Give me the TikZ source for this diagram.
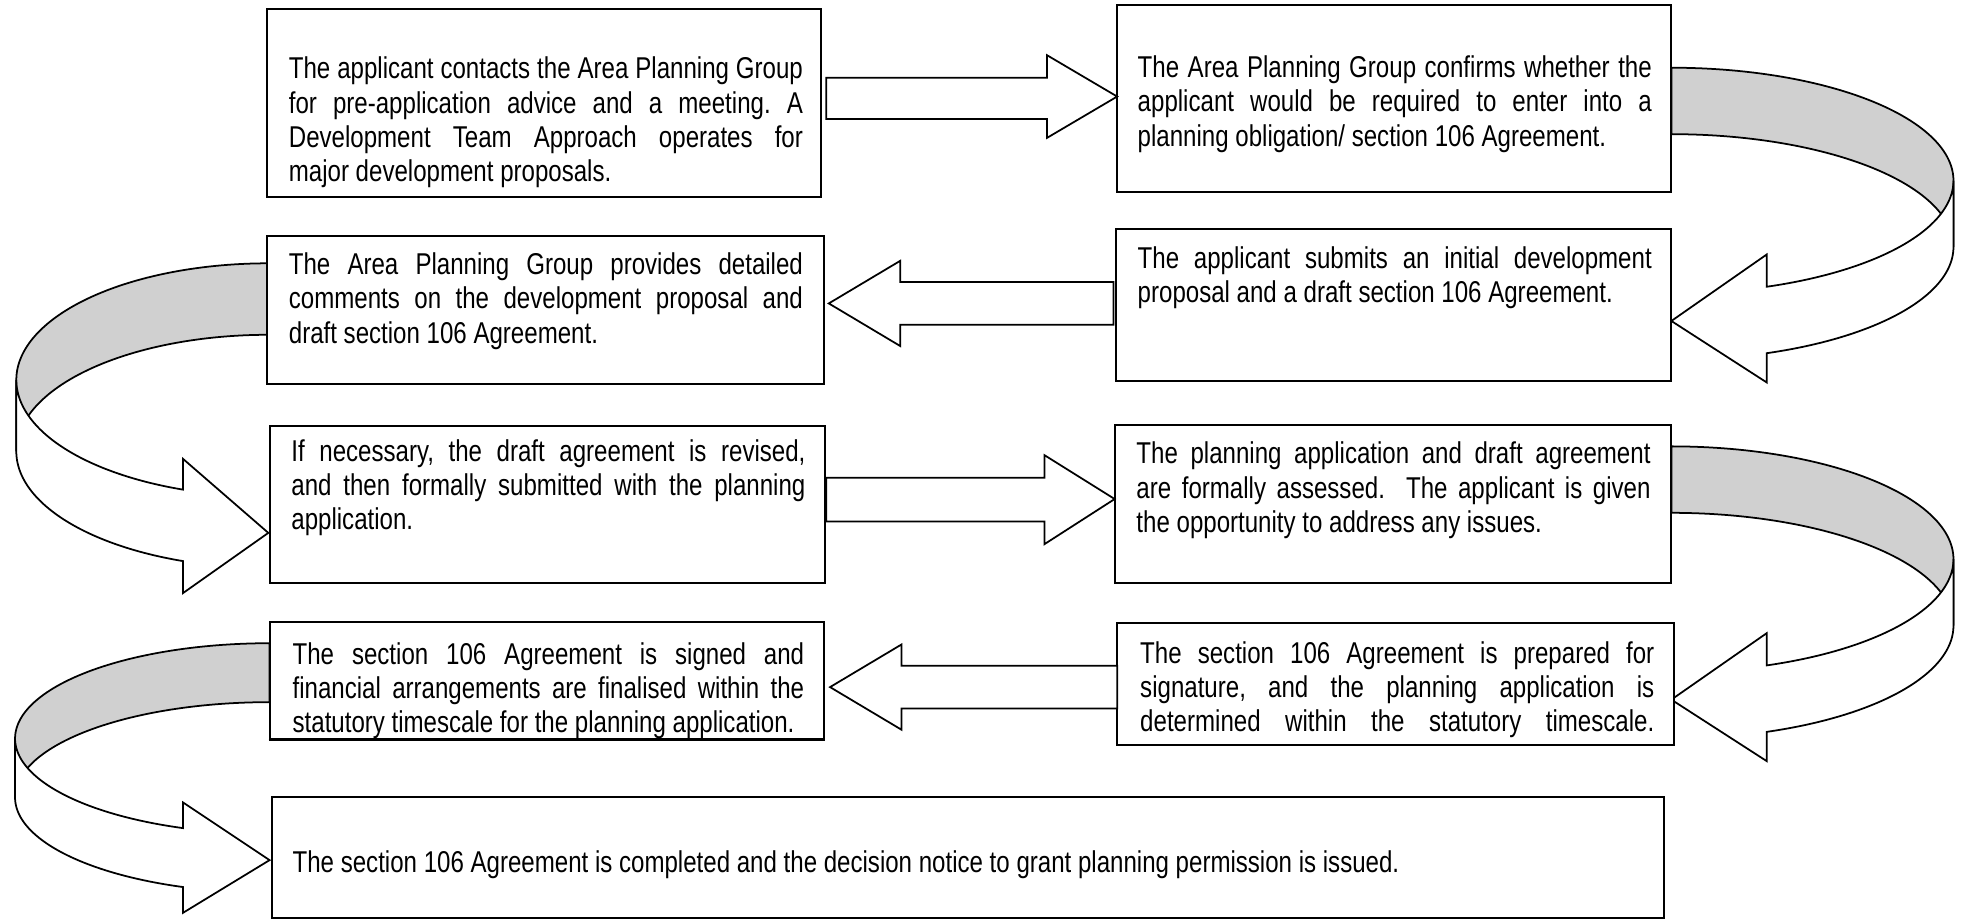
\documentclass[tikz,border=0pt]{standalone}
\usepackage{fontspec}
\setmainfont{Liberation Sans}[FakeStretch=0.80]
\usetikzlibrary{calc,fit}
\definecolor{ribgrey}{RGB}{208,208,208}
\tikzset{
  box/.style={draw=black, fill=white, line width=0.8pt, rectangle, inner sep=0pt},
  txt/.style={inner sep=0pt, anchor=base west, font=\fontsize{12pt}{13.65pt}\selectfont},
  blockarrow/.style={draw=black, fill=white, line width=0.7pt, line join=miter},
  ribbonback/.style={draw=black, fill=ribgrey, line width=0.7pt},
  ribbonfront/.style={draw=black, fill=white, line width=0.7pt, line join=miter},
}
% #1 cx, #2 cy, #3 rx, #4 ry, #5 thickness, #6 head base x, #7 head top, #8 head bottom, #9 tip y
\newcommand{\ribbonR}[9]{%
  \pgfmathsetmacro{\thh}{acos((#6-#1)/#3)}%
  \filldraw[ribbonback] plot[domain=-90:0,samples=60] ({#1+#3*cos(\x)},{#2+#4*sin(\x)})
    -- plot[domain=0:-90,samples=60] ({#1+#3*cos(\x)},{#2+#5+#4*sin(\x)}) -- cycle;
  \filldraw[ribbonfront] plot[domain=0:\thh,samples=60] ({#1+#3*cos(\x)},{#2+#4*sin(\x)})
    -- (#6,#7) -- (#1,#9) -- (#6,#8)
    -- plot[domain=\thh:0,samples=60] ({#1+#3*cos(\x)},{#2+#5+#4*sin(\x)}) -- cycle;
}
\newcommand{\ribbonL}[9]{%
  \pgfmathsetmacro{\thh}{acos((#6-#1)/#3)}%
  \filldraw[ribbonback] plot[domain=270:180,samples=60] ({#1+#3*cos(\x)},{#2+#4*sin(\x)})
    -- plot[domain=180:270,samples=60] ({#1+#3*cos(\x)},{#2+#5+#4*sin(\x)}) -- cycle;
  \filldraw[ribbonfront] plot[domain=180:\thh,samples=60] ({#1+#3*cos(\x)},{#2+#4*sin(\x)})
    -- (#6,#7) -- (#1,#9) -- (#6,#8)
    -- plot[domain=\thh:180,samples=60] ({#1+#3*cos(\x)},{#2+#5+#4*sin(\x)}) -- cycle;
}
\begin{document}
\frenchspacing
\tolerance=10000 \hbadness=10000
\begin{tikzpicture}[x=0.5pt, y=-0.5pt]
\useasboundingbox (0,0) rectangle (1568,733);

% curved ribbon arrows
\ribbonR{1333}{144}{225}{90}{53}{1409}{203}{305}{256}
\ribbonL{214}{303}{201}{93}{57}{146}{366}{473}{425}
\ribbonR{1333}{446}{225}{90}{53}{1409}{505}{607}{558}
\ribbonL{215}{589}{203}{76}{47}{146}{640}{728}{686}

% boxes
\node[box, fit={(213,7) (655,157)}] (b1) {};
\node[box, fit={(891,4) (1333,153)}] (b2) {};
\node[box, fit={(213,188) (657,306)}] (b3) {};
\node[box, fit={(890,183) (1333,304)}] (b4) {};
\node[box, fit={(215,340) (658,465)}] (b5) {};
\node[box, fit={(889,339) (1333,465)}] (b6) {};
\node[box, fit={(215,496) (657,589)}] (b7) {};
\node[box, fit={(891,497) (1335,594)}] (b8) {};
\node[box, fit={(217,636) (1327,732)}] (b9) {};

% straight block arrows
\filldraw[blockarrow] (659,62) -- (835,62) -- (835,44) -- (891,77) -- (835,110) -- (835,95) -- (659,95) -- cycle;
\filldraw[blockarrow] (661,242) -- (718,208) -- (718,225) -- (888,225) -- (888,259) -- (718,259) -- (718,276) -- cycle;
\filldraw[blockarrow] (659,381) -- (833,381) -- (833,363) -- (889,398) -- (833,434) -- (833,416) -- (659,416) -- cycle;
\filldraw[blockarrow] (662,548) -- (719,514) -- (719,531) -- (891,531) -- (891,565) -- (719,565) -- (719,582) -- cycle;

% texts
\node[txt] (t1) at (230,63) {\parbox[t]{205pt}{The applicant contacts the Area Planning Group\linebreak for pre-application advice and a meeting. A\linebreak Development Team Approach operates for\linebreak major development proposals.}};
\node[txt] (t2) at (907,62) {\parbox[t]{205pt}{The Area Planning Group confirms whether the\linebreak applicant would be required to enter into a\linebreak planning obligation/ section 106 Agreement.}};
\node[txt] (t3) at (230,219) {\parbox[t]{205pt}{The Area Planning Group provides detailed\linebreak comments on the development proposal and\linebreak draft section 106 Agreement.}};
\node[txt] (t4) at (907,214) {\parbox[t]{205pt}{The applicant submits an initial development\linebreak proposal and a draft section 106 Agreement.}};
\node[txt] (t5) at (232,368) {\parbox[t]{205pt}{If necessary, the draft agreement is revised,\linebreak and then formally submitted with the planning\linebreak application.}};
\node[txt] (t6) at (906,370) {\parbox[t]{205pt}{The planning application and draft agreement\linebreak are formally assessed.\ \ The applicant is given\linebreak the opportunity to address any issues.}};
\begin{scope}
\clip (215,496) rectangle (657,589);
\node[txt] (t7) at (233,530) {\parbox[t]{204pt}{The section 106 Agreement is signed and\linebreak financial arrangements are finalised within the\linebreak statutory timescale for the planning application.}};
\end{scope}
\draw[line width=0.8pt] (b7.south west) -- (b7.south east);
\node[txt] (t8) at (909,529) {\parbox[t]{205pt}{\parfillskip=0pt The section 106 Agreement is prepared for\linebreak signature, and the planning application is\linebreak determined within the statutory timescale.}};
\node[txt] (t9) at (233,696) {The section 106 Agreement is completed and the decision notice to grant planning permission is issued.};
\end{tikzpicture}
\end{document}
